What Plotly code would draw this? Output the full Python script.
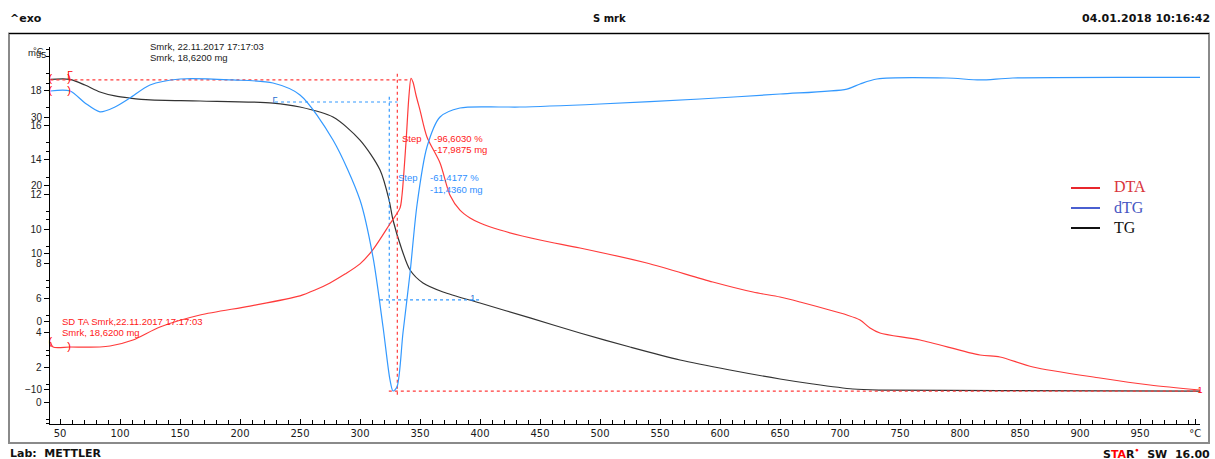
import numpy as np
import plotly.graph_objects as go

# ---------------- data ----------------
# TG curve: temperature (°C) and mass (mg)
tg_T = [42, 58.3, 70.8, 83.3, 95.8, 108.3, 125, 166.7, 227.5, 250, 277.5, 300, 316.7,
        324.2, 327.5, 335, 341.7, 352.5, 369.2, 400, 441.7, 483.3, 525, 566.7, 608.3,
        650, 677.5, 710.8, 733.3, 833, 1000]
tg_mg = [18.65, 18.65, 18.32, 17.92, 17.69, 17.57, 17.46, 17.40, 17.28, 17.05, 16.47, 15.14, 13.41,
         11.68, 10.52, 8.79, 7.63, 6.88, 6.36, 5.72, 4.86, 3.99, 3.18, 2.43, 1.85,
         1.33, 1.04, 0.75, 0.69, 0.66, 0.63]

# SDTA curve: temperature (°C) and DTA signal (°C)
dta_T = [42, 44.2, 58.3, 83.3, 91.7, 110.8, 133.3, 166.7, 208.3, 250, 262.5, 275, 287.5, 300, 310.8,
         325, 333.3, 335, 338.3, 340.8, 342.5, 344.2, 346.7, 350, 355.8, 366.7, 375, 383.3, 391.7,
         400, 416.7, 450, 483.3, 539, 594, 627.5, 650, 666.7, 705.8, 716.7, 725, 733.3,
         766.7, 816.7, 833.3, 860.8, 916.7, 958.3, 1000]
dta_C = [-3.09, -3.82, -3.82, -3.82, -3.68, -2.79, -0.88, 0.88, 2.2, 3.7, 4.55, 5.6, 6.9, 8.4, 10.5,
         14.3, 16.6, 18.5, 26.2, 33.1, 35.7, 35.1, 33.2, 31.0, 27.06, 23.24, 18.5, 16.3, 15.15,
         14.41, 13.38, 11.91, 10.74, 8.53, 5.74, 4.26, 3.53, 2.79, 0.88, 0.15, -1.03, -1.76,
         -2.79, -5.0, -5.29, -6.76, -8.38, -9.41, -10.15]

# dTG curve: temperature (°C) and mass-loss rate (mg/min)
dtg_T = [42, 58.3, 70.8, 83.3, 95.8, 108.3, 125, 150, 194, 227.5, 250, 277.5, 300, 310.8,
         319.2, 325, 327.5, 330.8, 335.8, 341.7, 347.5, 355.8, 366.7, 383.3, 416.7, 433.3,
         500, 583.3, 650, 705.8, 716.7, 730.8, 789, 816.7, 844, 1000]
dtg_v = [-0.146, -0.146, -0.28, -0.38, -0.326, -0.225, -0.079, -0.011, -0.022, -0.056, -0.19,
         -0.697, -1.371, -2.011, -2.798, -3.393, -3.517, -3.472, -2.865, -2.191, -1.427, -0.775,
         -0.438, -0.337, -0.326, -0.326, -0.292, -0.236, -0.18, -0.124, -0.067, -0.011, 0,
         -0.022, 0, 0.006]

# evaluation limits (°C)
eval_limits_T = [42, 57.5]

# step evaluations
red_step = dict(T_left=42, T_right=1000, T_mid=331.1, start_mg=18.62, delta_mg=-17.9875, pct=-96.6030)
blue_step = dict(T_left=229.2, T_right=400.6, T_mid=324.4, start_mg=17.34, delta_mg=-11.4360, pct=-61.4177)

x_tickvals = list(range(50, 951, 50))
x_ticktext = [str(v) for v in x_tickvals]
mg_tickvals = list(range(0, 19, 2))
dta_tickvals = [-10, 0, 10, 20, 30]

# ---------------- layout geometry ----------------
W, H = 1215, 459
PL, PR, PT, PB = 50, 1200, 47, 424


def fx(x):
    return (x - PL) / (PR - PL)


def fy(y):
    return (PB - y) / (PB - PT)


RED = "#ff3b3b"
BLUE = "#3399ff"
BLACK = "#333333"
SANS = "Liberation Sans, Arial, sans-serif"
BOLD = "DejaVu Sans, Verdana, sans-serif"


def fmt(v, unit):
    return ("%.4f" % v).replace(".", ",") + " " + unit


fig = go.Figure()

# main curves
fig.add_trace(go.Scatter(x=dta_T, y=dta_C, yaxis="y2", mode="lines",
                         line=dict(color=RED, width=1.2, shape="spline", smoothing=0.8),
                         showlegend=False, hoverinfo="skip"))
fig.add_trace(go.Scatter(x=dtg_T, y=dtg_v, yaxis="y3", mode="lines",
                         line=dict(color=BLUE, width=1.2, shape="spline", smoothing=0.8),
                         showlegend=False, hoverinfo="skip"))
fig.add_trace(go.Scatter(x=tg_T, y=tg_mg, yaxis="y", mode="lines",
                         line=dict(color=BLACK, width=1.2, shape="spline", smoothing=0.8),
                         showlegend=False, hoverinfo="skip"))

# red step construction lines (TG step)
r_end = red_step["start_mg"] + red_step["delta_mg"]
fig.add_trace(go.Scatter(x=[red_step["T_left"], 341], y=[red_step["start_mg"]] * 2, mode="lines",
                         line=dict(color=RED, width=1.2, dash="dot"), showlegend=False, hoverinfo="skip"))
fig.add_trace(go.Scatter(x=[red_step["T_mid"]] * 2, y=[red_step["start_mg"] + 0.35, r_end - 0.35], mode="lines",
                         line=dict(color=RED, width=1.2, dash="dot"), showlegend=False, hoverinfo="skip"))
fig.add_trace(go.Scatter(x=[324, red_step["T_right"] + 3], y=[r_end] * 2, mode="lines",
                         line=dict(color=RED, width=1.2, dash="dot"), showlegend=False, hoverinfo="skip"))

# blue step construction lines
b_end = blue_step["start_mg"] + blue_step["delta_mg"]
fig.add_trace(go.Scatter(x=[blue_step["T_left"], red_step["T_mid"]], y=[blue_step["start_mg"]] * 2, mode="lines",
                         line=dict(color=BLUE, width=1.2, dash="dot"), showlegend=False, hoverinfo="skip"))
fig.add_trace(go.Scatter(x=[blue_step["T_mid"]] * 2, y=[blue_step["start_mg"] + 0.3, b_end - 0.45], mode="lines",
                         line=dict(color=BLUE, width=1.2, dash="dot"), showlegend=False, hoverinfo="skip"))
fig.add_trace(go.Scatter(x=[316.7, blue_step["T_right"]], y=[b_end] * 2, mode="lines",
                         line=dict(color=BLUE, width=1.2, dash="dot"), showlegend=False, hoverinfo="skip"))

# evaluation-limit brackets on each curve
for Tarr, Varr, ax in [(tg_T, tg_mg, "y"), (dtg_T, dtg_v, "y3"), (dta_T, dta_C, "y2")]:
    yv = [float(np.interp(t, Tarr, Varr)) for t in eval_limits_T]
    fig.add_trace(go.Scatter(x=eval_limits_T, y=yv, yaxis=ax, mode="text", text=["(", ")"],
                             textfont=dict(color="#ff0000", size=11, family=SANS),
                             showlegend=False, hoverinfo="skip", cliponaxis=False))

# step flags
fig.add_trace(go.Scatter(x=[58.3], y=[red_step["start_mg"] + 0.2], mode="text", text=["Γ"],
                         textfont=dict(color="#ff0000", size=10, family=SANS),
                         showlegend=False, hoverinfo="skip", cliponaxis=False))
fig.add_trace(go.Scatter(x=[red_step["T_right"]], y=[r_end], mode="text", text=["1"],
                         textfont=dict(color="#ff0000", size=9, family=SANS),
                         showlegend=False, hoverinfo="skip", cliponaxis=False))
fig.add_trace(go.Scatter(x=[blue_step["T_left"]], y=[blue_step["start_mg"] + 0.05], mode="text", text=["Γ"],
                         textfont=dict(color="#1e6fd0", size=9, family=SANS),
                         showlegend=False, hoverinfo="skip", cliponaxis=False))
fig.add_trace(go.Scatter(x=[394], y=[b_end + 0.05], mode="text", text=["1"],
                         textfont=dict(color="#1e6fd0", size=9, family=SANS),
                         showlegend=False, hoverinfo="skip", cliponaxis=False))

# ---------------- annotations ----------------
ann = []


def txt(x, y, s, size=9.5, color="#222222", family=SANS, xanchor="left"):
    ann.append(dict(x=fx(x), y=fy(y), xref="paper", yref="paper", text=s, showarrow=False,
                    xanchor=xanchor, yanchor="middle", font=dict(size=size, color=color, family=family)))


# header / footer
txt(8, 19, "<b>^exo</b>", size=11, color="#111111", family=BOLD)
txt(609, 19, "<b>S mrk</b>", size=10, color="#111111", family=BOLD, xanchor="center")
txt(1080, 19, "<b>04.01.2018 10:16:42</b>", size=11, color="#111111", family=BOLD)
txt(8, 453, "<b>Lab:  METTLER</b>", size=11, color="#111111", family=BOLD)
txt(1212, 453, "<b>S<span style='color:#ff0000'>TA</span>R<span style='color:#ff0000'><sup>•</sup></span>  SW  16.00</b>",
    size=11, color="#111111", family=BOLD, xanchor="right")

# unit labels
txt(26, 53, "mg", size=9.5)
txt(31, 51, "°C", size=9.5)
txt(39, 54, "5", size=9.5)

# curve info texts
txt(148, 46, "Smrk, 22.11.2017 17:17:03")
txt(148, 58, "Smrk, 18,6200 mg")
txt(60, 321, "SD TA Smrk,22.11.2017 17:17:03", color="#ff2020")
txt(60, 332.5, "Smrk, 18,6200 mg", color="#ff2020")

# step results
txt(400, 138, "Step", color="#ff2020")
txt(432, 138, fmt(red_step["pct"], "%"), color="#ff2020")
txt(432, 149.5, fmt(red_step["delta_mg"], "mg"), color="#ff2020")
txt(396, 178, "Step", color="#2f8fff")
txt(428, 178, fmt(blue_step["pct"], "%"), color="#2f8fff")
txt(428, 189, fmt(blue_step["delta_mg"], "mg"), color="#2f8fff")

# legend (pasted image style)
SERIF = "Liberation Serif, Times New Roman, serif"
legend_items = [("DTA", "#e8262c", "#d9343c", 188), ("dTG", "#4a5fd0", "#4656c2", 208), ("TG", "#111111", "#111111", 228)]
shapes = []
for name, lc, tc, yy in legend_items:
    shapes.append(dict(type="line", xref="paper", yref="paper", x0=fx(1071), x1=fx(1100), y0=fy(yy), y1=fy(yy),
                       line=dict(color=lc, width=2)))
    txt(1112, yy - 1, name, size=16, color=tc, family=SERIF)

# outer frame
shapes.append(dict(type="rect", xref="paper", yref="paper", x0=fx(9), x1=fx(1209), y0=fy(443), y1=fy(33.5),
                   line=dict(color="#8a8a8a", width=2), layer="below"))
shapes.append(dict(type="line", xref="paper", yref="paper", x0=fx(9), x1=fx(1209), y0=fy(33.5), y1=fy(33.5),
                   line=dict(color="#000000", width=1)))

# ---------------- axes ----------------
mg_range = [-(PB - 402) / 17.3, (402 - PT) / 17.3]
dta_range = [(321 - PB) / 6.8, (321 - PT) / 6.8]
dtg_range = [(78 - PB) / 89.0, (78 - PT) / 89.0]
x_range = [50 + (PL - 60) / 1.2, 50 + (PR - 60) / 1.2]

fig.update_layout(
    width=W, height=H,
    margin=dict(l=PL, r=W - PR, t=PT, b=H - PB, pad=0),
    paper_bgcolor="white", plot_bgcolor="white",
    showlegend=False,
    hovermode=False,
    annotations=ann,
    shapes=shapes,
    xaxis=dict(range=x_range, showgrid=False, zeroline=False, showline=True, linecolor="#000000", linewidth=1,
               ticks="inside", ticklen=5, tickwidth=1, tickcolor="#000000",
               tickmode="array", tickvals=x_tickvals + [996], ticktext=x_ticktext + ["°C"],
               tickfont=dict(family=BOLD, size=10, color="#1a1a1a"),
               minor=dict(ticks="inside", ticklen=4, tickmode="linear", tick0=0, dtick=10, tickcolor="#000000"),
               fixedrange=True),
    yaxis=dict(range=mg_range, showgrid=False, zeroline=False, showline=True, linecolor="#000000", linewidth=1.5,
               ticks="outside", ticklen=5, tickwidth=1, tickcolor="#000000",
               tickmode="array", tickvals=mg_tickvals,
               tickfont=dict(family=SANS, size=10, color="#222222"),
               minor=dict(ticks="outside", ticklen=3, tickmode="linear", tick0=0, dtick=1, tickcolor="#000000"),
               fixedrange=True),
    yaxis2=dict(range=dta_range, overlaying="y", side="left", anchor="x", showgrid=False, zeroline=False,
                showline=False, ticks="outside", ticklen=5, tickwidth=1, tickcolor="#000000",
                tickmode="array", tickvals=dta_tickvals,
                tickfont=dict(family=SANS, size=10, color="#222222"),
                minor=dict(ticks="outside", ticklen=3, tickmode="linear", tick0=0, dtick=5, tickcolor="#000000"),
                fixedrange=True),
    yaxis3=dict(range=dtg_range, overlaying="y", side="left", anchor="x", visible=False, fixedrange=True),
)

fig.write_html("out.html",
               config={"displayModeBar": False, "staticPlot": True},
               post_script="document.body.style.margin='0';document.body.style.overflow='hidden';")
